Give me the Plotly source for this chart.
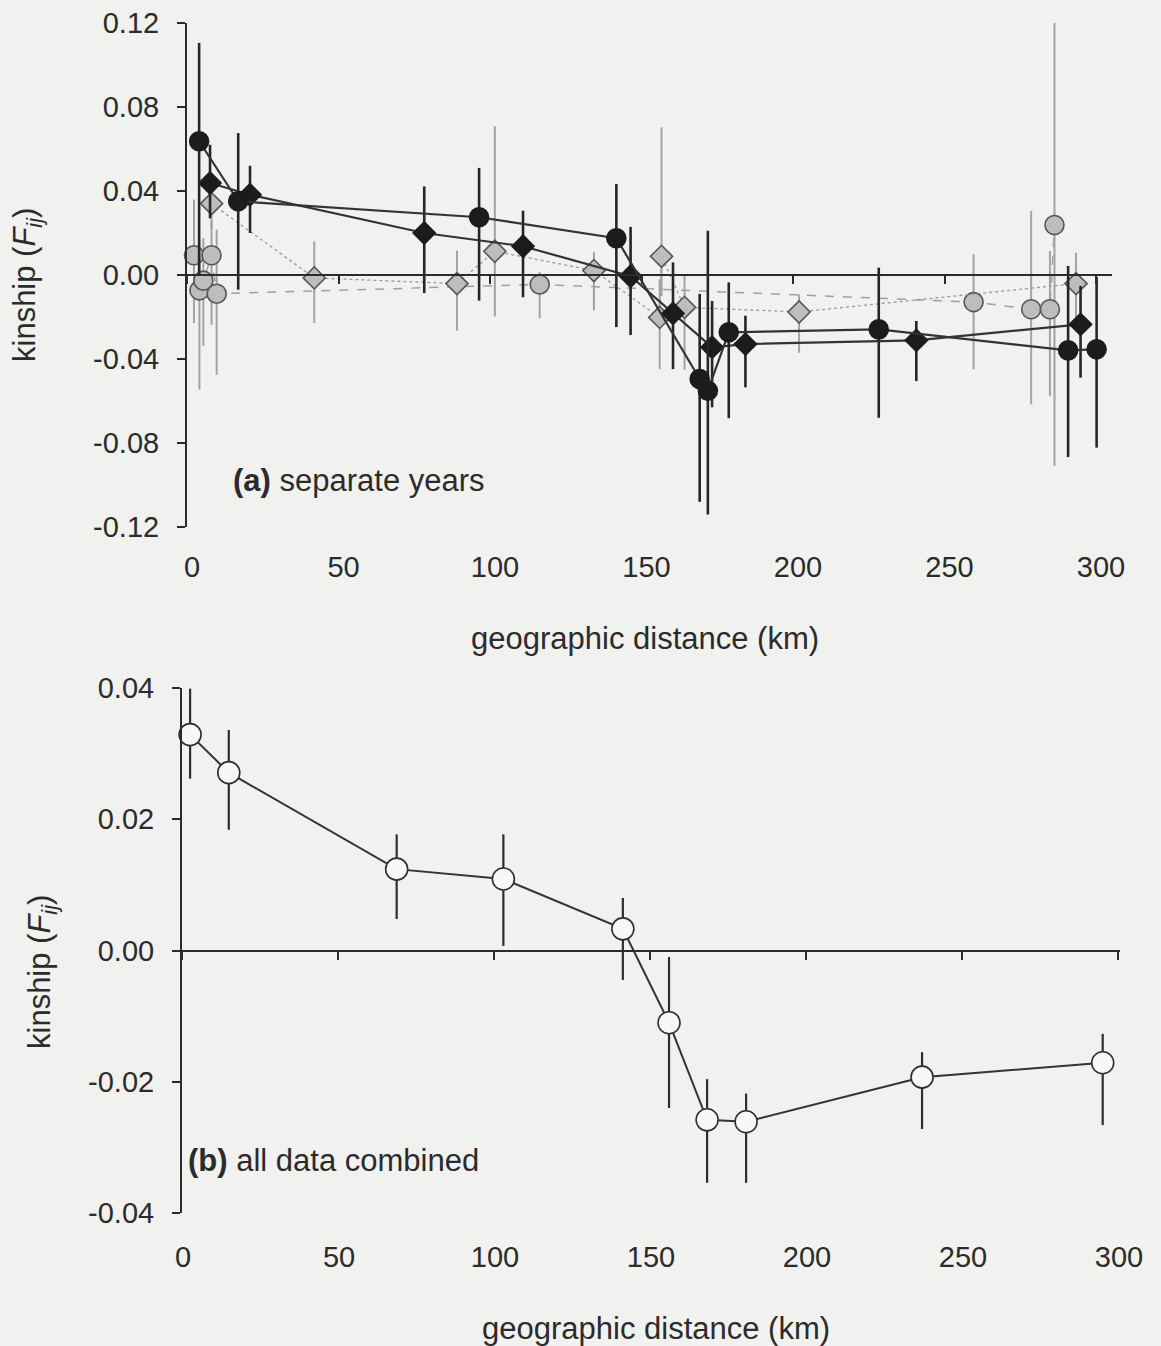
import plotly.graph_objects as go

W, H = 1161, 1346
FONT = "Liberation Sans, Arial, Helvetica, sans-serif"
INK = "#2b2b2b"
BG = "#f1f1ef"

# ---------------- panel (a): separate years ----------------
# black circles
bc_km = [4.0, 16.9, 96.4, 141.7, 169.2, 171.9, 178.8, 228.3, 290.8, 300.2]
bc_fij = [0.0637, 0.0351, 0.0275, 0.0175, -0.0495, -0.0551, -0.0273, -0.0259, -0.0359, -0.0354]
bc_hi = [0.1105, 0.0676, 0.0510, 0.0433, -0.0090, 0.0211, -0.0035, 0.0035, 0.0043, -0.0010]
bc_lo = [0.0000, -0.0070, -0.0122, -0.0248, -0.1080, -0.1140, -0.0682, -0.0680, -0.0867, -0.0822]

# black diamonds
bd_km = [7.6, 20.8, 78.3, 110.9, 146.4, 160.4, 173.3, 184.3, 240.7, 294.9]
bd_fij = [0.0438, 0.0382, 0.0200, 0.0137, -0.0006, -0.0183, -0.0344, -0.0329, -0.0311, -0.0235]
bd_hi = [0.0620, 0.0520, 0.0422, 0.0306, 0.0229, 0.0060, -0.0124, -0.0194, -0.0219, -0.0052]
bd_lo = [0.0270, 0.0200, -0.0086, -0.0106, -0.0286, -0.0448, -0.0630, -0.0535, -0.0505, -0.0489]

# grey circles
gc_km = [2.3, 4.1, 5.4, 8.1, 9.8, 116.4, 259.6, 278.6, 284.8, 286.3]
gc_fij = [0.0094, -0.0073, -0.0027, 0.0094, -0.0089, -0.0045, -0.0129, -0.0163, -0.0163, 0.0238]
gc_hi = [0.0359, 0.0168, 0.0176, 0.0257, 0.0216, 0.0015, 0.0099, 0.0305, 0.0114, 0.1249]
gc_lo = [-0.0229, -0.0546, -0.0338, -0.0237, -0.0475, -0.0207, -0.0449, -0.0616, -0.0576, -0.0910]

# grey diamonds
gd_km = [8.1, 42.0, 89.1, 101.6, 134.3, 156.0, 156.6, 164.2, 202.0, 293.4]
gd_fij = [0.0340, -0.0014, -0.0041, 0.0113, 0.0021, -0.0202, 0.0089, -0.0154, -0.0176, -0.0041]
gd_hi = [0.0460, 0.0160, 0.0116, 0.0708, 0.0110, -0.0020, 0.0703, -0.0003, -0.0092, 0.0106]
gd_lo = [0.0220, -0.0229, -0.0265, -0.0197, -0.0168, -0.0448, -0.0100, -0.0450, -0.0370, -0.0270]

# ---------------- panel (b): all data combined ----------------
all_km = [2.6, 15.0, 68.8, 103.0, 141.3, 156.1, 168.3, 180.8, 237.2, 295.1]
all_fij = [0.0329, 0.0271, 0.0124, 0.0109, 0.0033, -0.0110, -0.0258, -0.0261, -0.0193, -0.0171]
all_hi = [0.0399, 0.0336, 0.0177, 0.0177, 0.0080, -0.0010, -0.0196, -0.0218, -0.0155, -0.0127]
all_lo = [0.0262, 0.0184, 0.0048, 0.0007, -0.0045, -0.0240, -0.0354, -0.0354, -0.0272, -0.0266]

# axis ticks
km_ticks = [0, 50, 100, 150, 200, 250, 300]
km_labels = ["0", "50", "100", "150", "200", "250", "300"]
fa_ticks = [-0.12, -0.08, -0.04, 0.0, 0.04, 0.08, 0.12]
fa_labels = ["-0.12", "-0.08", "-0.04", "0.00", "0.04", "0.08", "0.12"]
fb_ticks = [-0.04, -0.02, 0.0, 0.02, 0.04]
fb_labels = ["-0.04", "-0.02", "0.00", "0.02", "0.04"]


def bars(y, hi, lo):
    return [h - v for v, h in zip(y, hi)], [v - l for v, l in zip(y, lo)]


def series(x, y, hi, lo, xa, ya, symbol, size, fill, edge, line, bar_col, bar_w):
    up, dn = bars(y, hi, lo)
    return go.Scatter(
        x=x, y=y, xaxis=xa, yaxis=ya, mode="lines+markers",
        line=line,
        marker=dict(symbol=symbol, size=size, color=fill, line=dict(color=edge, width=1.6)),
        error_y=dict(type="data", array=up, arrayminus=dn, symmetric=False,
                     color=bar_col, thickness=bar_w, width=0),
        cliponaxis=False, showlegend=False, hoverinfo="x+y",
    )


fig = go.Figure()

fig.add_trace(series(gc_km, gc_fij, gc_hi, gc_lo, "x", "y", "circle", 19, "#bdbdbd", "#555555",
                     dict(color="#a0a0a0", width=1.5, dash="dash"), "#a3a3a3", 2))
fig.add_trace(series(gd_km, gd_fij, gd_hi, gd_lo, "x", "y", "diamond", 17, "#bdbdbd", "#555555",
                     dict(color="#9a9a9a", width=1.3, dash="dot"), "#a3a3a3", 2))
fig.add_trace(series(bd_km, bd_fij, bd_hi, bd_lo, "x", "y", "diamond", 17, "#1c1c1c", "#1c1c1c",
                     dict(color="#333333", width=2.2), "#262626", 2.6))
fig.add_trace(series(bc_km, bc_fij, bc_hi, bc_lo, "x", "y", "circle", 19, "#1c1c1c", "#1c1c1c",
                     dict(color="#333333", width=2.2), "#262626", 2.6))

fig.add_trace(series(all_km, all_fij, all_hi, all_lo, "x2", "y2", "circle", 22, "#f7f7f7", "#2e2e2e",
                     dict(color="#333333", width=2), "#2e2e2e", 2.2))

# plot-area geometry (pixels)
a_left, a_right, a_top, a_bot = 187, 1112, 23, 527
b_left, b_right, b_top, b_bot = 182, 1120, 688, 1213
a_lab_y, b_lab_y = 560, 1251


def fy(p):
    return 1 - p / H


def zero_frac(top, bot, lo, hi):
    return fy(bot) + (0 - lo) / (hi - lo) * (fy(top) - fy(bot))


def zero_px(top, bot, lo, hi):
    return bot - (0 - lo) / (hi - lo) * (bot - top)


a_zero = zero_px(a_top, a_bot, -0.12, 0.12)
b_zero = zero_px(b_top, b_bot, -0.04, 0.04)

tickfont = dict(family=FONT, size=29, color=INK)
common_x = dict(showgrid=False, zeroline=False, showline=True, linecolor=INK, linewidth=2,
                ticks="outside", ticklen=8, tickwidth=2, tickcolor=INK, tickfont=tickfont,
                anchor="free", fixedrange=True, automargin=False)
common_y = dict(showgrid=False, zeroline=False, showline=True, linecolor=INK, linewidth=2,
                ticks="outside", ticklen=8, tickwidth=2, tickcolor=INK, tickfont=tickfont,
                fixedrange=True, automargin=False, ticklabelstandoff=12)

fig.update_layout(
    width=W, height=H,
    margin=dict(l=0, r=0, t=0, b=0, autoexpand=False),
    paper_bgcolor=BG, plot_bgcolor="rgba(0,0,0,0)",
    font=dict(family=FONT, color=INK),
    xaxis=dict(common_x, domain=[a_left / W, a_right / W],
               range=[0, 300 * (a_right - a_left) / (1096 - a_left)],
               position=zero_frac(a_top, a_bot, -0.12, 0.12),
               tickvals=km_ticks, ticktext=km_labels, ticklabelshift=5,
               ticklabelstandoff=int(a_lab_y - a_zero - 8 - 19)),
    yaxis=dict(common_y, domain=[fy(a_bot), fy(a_top)], range=[-0.12, 0.12],
               tickvals=fa_ticks, ticktext=fa_labels, anchor="x"),
    xaxis2=dict(common_x, domain=[b_left / W, b_right / W],
                range=[0, 300 * (b_right - b_left) / (1118 - b_left)],
                position=zero_frac(b_top, b_bot, -0.04, 0.04),
                tickvals=km_ticks, ticktext=km_labels, ticklabelshift=1,
                ticklabelstandoff=int(b_lab_y - b_zero - 8 - 19)),
    yaxis2=dict(common_y, domain=[fy(b_bot), fy(b_top)], range=[-0.04, 0.04],
                tickvals=fb_ticks, ticktext=fb_labels, anchor="x2"),
)

title_font = dict(family=FONT, size=31, color=INK)
ann = [
    dict(text="geographic distance (km)", x=645 / W, y=fy(638)),
    dict(text="geographic distance (km)", x=656 / W, y=fy(1328)),
    dict(text="kinship (<i>F</i><sub><i>ij</i></sub>)", x=27 / W, y=fy(285), textangle=-90),
    dict(text="kinship (<i>F</i><sub><i>ij</i></sub>)", x=42 / W, y=fy(972), textangle=-90),
    dict(text="<b>(a)</b> separate years", x=231 / W, y=fy(480), xanchor="left"),
    dict(text="<b>(b)</b> all data combined", x=186 / W, y=fy(1160), xanchor="left"),
]
for a in ann:
    base = dict(xref="paper", yref="paper", showarrow=False, font=title_font,
                xanchor="center", yanchor="middle")
    base.update(a)
    fig.add_annotation(**base)

fig.write_html("out.html")
